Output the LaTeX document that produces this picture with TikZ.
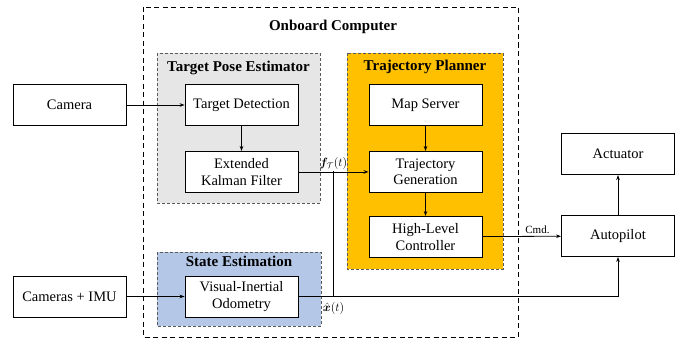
\documentclass[tikz,border=0pt]{standalone}
\usepackage{fontspec}
\setmainfont{Liberation Serif}
\usepackage{amsmath,bm}
\usetikzlibrary{positioning, arrows.meta}
\definecolor{poseGray}{HTML}{E7E6E6}
\definecolor{plannerOrange}{HTML}{FFC000}
\definecolor{stateBlue}{HTML}{B4C7E7}
\definecolor{groupEdge}{HTML}{5A5A5A}
\tikzset{
	>={Stealth[length=5pt,width=3.6pt]}, % small filled arrow heads
	block/.style={draw, line width=0.9pt, fill=white, minimum width=113pt, minimum height=41pt, align=center, inner sep=1pt, font=\fontsize{14.5}{16.5}\selectfont}, % every module box
	group/.style={draw=groupEdge, line width=0.7pt, dash pattern=on 3pt off 2pt}, % dashed sub-system frames
	outer/.style={draw=black, line width=0.9pt, dash pattern=on 5pt off 3.5pt},
	groupTitle/.style={font=\fontsize{15}{17}\selectfont\bfseries},
	flow/.style={->, line width=0.8pt},
	wire/.style={line width=0.8pt},
	signal/.style={font=\fontsize{12}{14}\selectfont, inner sep=1pt},
}
\begin{document}
\begin{tikzpicture}[x=1pt, y=-1pt]
	\useasboundingbox (0,0) rectangle (693,345);

	% frames
	\draw[outer] (143,7) rectangle (518,337);
	\draw[group, fill=poseGray] (157,53) rectangle (320,203);
	\draw[group, fill=plannerOrange] (347,53) rectangle (503,269);
	\draw[group, fill=stateBlue] (157,252) rectangle (321,326);

	\node[groupTitle] (onboardTitle) at (333,27) {Onboard Computer};
	\node[groupTitle] (poseTitle) at (238.5,68) {Target Pose Estimator};
	\node[groupTitle] (plannerTitle) at (425,67) {Trajectory Planner};
	\node[groupTitle] (stateTitle) at (239,261.5) {State Estimation};

	% modules
	\node[block] (camera) at (69.5,105) {Camera};
	\node[block] (detect) at (241.5,105) {Target Detection};
	\node[block, below=25pt of detect] (ekf) {Extended\\Kalman Filter};
	\node[block] (mapserver) at (425.5,105) {Map Server};
	\node[block, below=25pt of mapserver] (trajgen) {Trajectory\\Generation};
	\node[block, below=23pt of trajgen] (hlc) {High-Level\\Controller};
	\node[block] (camimu) at (69.5,296.5) {Cameras + IMU};
	\node[block] (vio) at (241.5,296.5) {Visual-Inertial\\Odometry};
	\node[block] (autopilot) at (618,236) {Autopilot};
	\node[block, above=40pt of autopilot] (actuator) {Actuator};

	% connections
	\draw[flow] (camera) -- (detect);
	\draw[flow] (detect) -- (ekf);
	\draw[flow] (mapserver) -- (trajgen);
	\draw[flow] (trajgen) -- (hlc);
	\draw[flow] (ekf) -- node[signal, above, inner sep=2pt] (fLabel) {$\bm{f}_{\mathcal{T}}(t)$} (trajgen);
	\coordinate (merge) at (333,171);
	\draw[wire] (merge) |- (vio.east);
	\draw[flow] (camimu) -- (vio);
	\draw[flow] (vio) -| (autopilot);
	\node[signal] (xLabel) at (333.5,308.5) {$\hat{\bm{x}}(t)$};
	\draw[flow] (hlc) -- node[pos=0.7, above, inner sep=2pt, font=\fontsize{11}{13}\selectfont] (cmdLabel) {Cmd.} (autopilot);
	\draw[flow] (autopilot) -- (actuator);

\end{tikzpicture}
\end{document}
